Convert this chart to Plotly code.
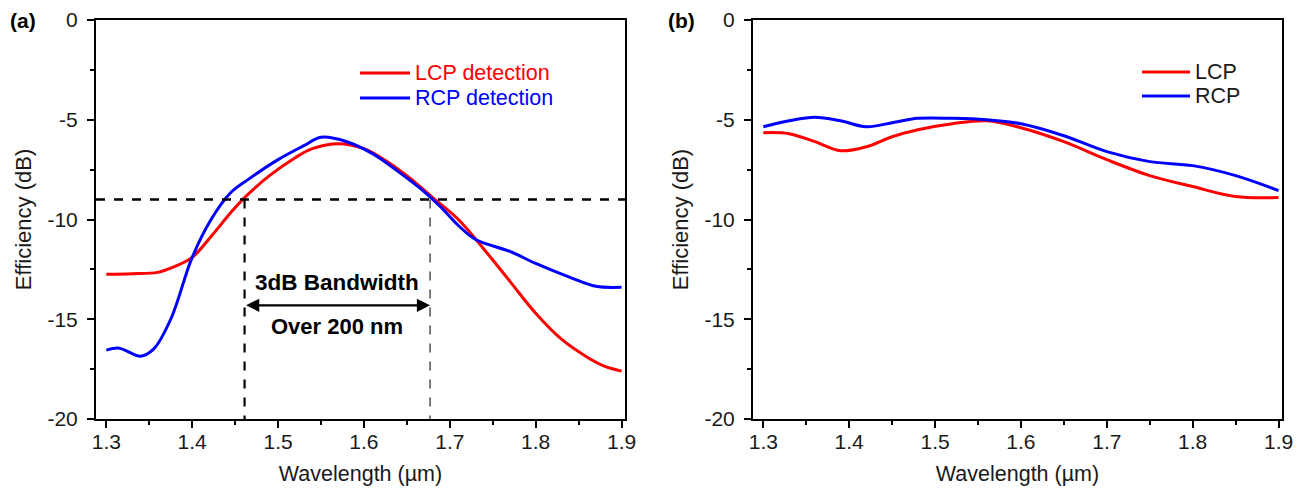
import plotly.graph_objects as go

# page has an 8px body margin: figure is drawn at (8, 8) inside the 1303x489 window
OFF = 8
W, H = 1303 - OFF, 489 - OFF

# ---------------- data ----------------
wl_a_lcp = [1.30, 1.33, 1.36, 1.38, 1.40, 1.422, 1.445, 1.461, 1.49, 1.52, 1.54, 1.57, 1.60, 1.62, 1.65, 1.68, 1.71, 1.74, 1.77, 1.80, 1.83, 1.86, 1.88, 1.90]
eff_a_lcp = [-12.75, -12.72, -12.65, -12.35, -11.9, -10.85, -9.65, -8.9, -7.8, -6.9, -6.45, -6.2, -6.45, -6.9, -7.8, -8.9, -10.0, -11.5, -13.1, -14.7, -16.0, -16.9, -17.35, -17.6]

wl_a_rcp = [1.30, 1.315, 1.34, 1.355, 1.375, 1.40, 1.422, 1.445, 1.465, 1.50, 1.53, 1.55, 1.58, 1.61, 1.64, 1.67, 1.69, 1.71, 1.73, 1.77, 1.80, 1.84, 1.87, 1.90]
eff_a_rcp = [-16.55, -16.45, -16.85, -16.5, -15.0, -11.9, -10.0, -8.65, -8.0, -7.0, -6.3, -5.88, -6.1, -6.7, -7.6, -8.6, -9.4, -10.3, -11.0, -11.6, -12.2, -12.9, -13.35, -13.4]

wl_b = [1.30, 1.33, 1.36, 1.39, 1.42, 1.45, 1.48, 1.52, 1.56, 1.60, 1.65, 1.70, 1.75, 1.80, 1.85, 1.90]
eff_b_lcp = [-5.65, -5.7, -6.1, -6.55, -6.35, -5.85, -5.5, -5.2, -5.05, -5.4, -6.1, -7.0, -7.8, -8.35, -8.85, -8.9]
eff_b_rcp = [-5.35, -5.05, -4.87, -5.05, -5.35, -5.15, -4.93, -4.93, -5.0, -5.2, -5.8, -6.6, -7.1, -7.3, -7.8, -8.55]

x_ticks = [1.3, 1.4, 1.5, 1.6, 1.7, 1.8, 1.9]
x_ticktext = ["1.3", "1.4", "1.5", "1.6", "1.7", "1.8", "1.9"]
y_ticks = [0, -5, -10, -15, -20]
y_ticktext = ["0", "-5", "-10", "-15", "-20"]

threshold_db = -9.0
band_lo, band_hi = 1.461, 1.677

# ---------------- figure ----------------
FONT = "Liberation Sans, Arial, sans-serif"
RED = "#ff0000"
BLUE = "#0000ff"
TXT = "#1a1a1a"

fig = go.Figure()
lw = 3
fig.add_trace(go.Scatter(x=wl_a_lcp, y=eff_a_lcp, mode="lines", line=dict(color=RED, width=lw, shape="spline", smoothing=1.0), xaxis="x", yaxis="y", showlegend=False))
fig.add_trace(go.Scatter(x=wl_a_rcp, y=eff_a_rcp, mode="lines", line=dict(color=BLUE, width=lw, shape="spline", smoothing=1.0), xaxis="x", yaxis="y", showlegend=False))
fig.add_trace(go.Scatter(x=wl_b, y=eff_b_lcp, mode="lines", line=dict(color=RED, width=lw, shape="spline", smoothing=1.0), xaxis="x2", yaxis="y2", showlegend=False))
fig.add_trace(go.Scatter(x=wl_b, y=eff_b_rcp, mode="lines", line=dict(color=BLUE, width=lw, shape="spline", smoothing=1.0), xaxis="x2", yaxis="y2", showlegend=False))

def px_x(p):
    return (p - OFF) / W

def px_y(p):
    return 1 - (p - OFF) / H

xr = [1.288, 1.904]
yr = [-20, 0]

common_x = dict(range=xr, tickvals=x_ticks, ticktext=x_ticktext, ticks="outside", ticklen=7, tickwidth=2,
                tickcolor="black", showline=True, linecolor="black", linewidth=2, mirror=True,
                showgrid=False, zeroline=False, automargin=False, ticklabelstandoff=-4,
                tickfont=dict(size=21, color=TXT, family=FONT),
                minor=dict(tickvals=[1.35, 1.45, 1.55, 1.65, 1.75, 1.85], ticks="outside", ticklen=4, tickwidth=2, tickcolor="black", showgrid=False),
                title=dict(text="Wavelength (\u00b5m)", font=dict(size=21.5, color=TXT, family=FONT), standoff=14))
common_y = dict(range=yr, tickvals=y_ticks, ticktext=y_ticktext, ticks="outside", ticklen=7, tickwidth=2,
                tickcolor="black", showline=True, linecolor="black", linewidth=2, mirror=True,
                showgrid=False, zeroline=False, automargin=False, ticklabelstandoff=5,
                tickfont=dict(size=21, color=TXT, family=FONT),
                minor=dict(tickvals=[-2.5, -7.5, -12.5, -17.5], ticks="outside", ticklen=4, tickwidth=2, tickcolor="black", showgrid=False),
                title=dict(text="Efficiency (dB)", font=dict(size=22, color=TXT, family=FONT), standoff=10))

fig.update_layout(
    width=W, height=H,
    margin=dict(l=0, r=0, t=0, b=0, autoexpand=False),
    paper_bgcolor="white", plot_bgcolor="white",
    font=dict(family=FONT, color=TXT),
    xaxis=dict(domain=[px_x(96), px_x(625)], anchor="y", **common_x),
    yaxis=dict(domain=[px_y(419), px_y(20)], anchor="x", **common_y),
    xaxis2=dict(domain=[px_x(753), px_x(1282)], anchor="y2", **common_x),
    yaxis2=dict(domain=[px_y(419), px_y(20)], anchor="x2", **common_y),
)

# dashed guide lines in panel (a)
fig.add_shape(type="line", xref="x", yref="y", x0=xr[0], x1=xr[1], y0=threshold_db, y1=threshold_db,
              line=dict(color="black", width=2.5, dash="dash"))
fig.add_shape(type="line", xref="x", yref="y", x0=band_lo, x1=band_lo, y0=threshold_db, y1=yr[0],
              line=dict(color="black", width=2.2, dash="dash"))
fig.add_shape(type="line", xref="x", yref="y", x0=band_hi, x1=band_hi, y0=threshold_db, y1=yr[0],
              line=dict(color="#333", width=1.3, dash="dash"))

# double arrow
fig.add_annotation(xref="x", yref="y", axref="x", ayref="y", x=band_hi, y=-14.3, ax=band_lo, ay=-14.3,
                   text="", showarrow=True, arrowhead=2, arrowside="end+start", arrowsize=1.2, arrowwidth=2.2, arrowcolor="black")
mid = (band_lo + band_hi) / 2
fig.add_annotation(xref="x", yref="y", x=mid, y=-13.15, text="<b>3dB Bandwidth</b>", showarrow=False,
                   font=dict(size=22.5, color="black", family=FONT))
fig.add_annotation(xref="x", yref="y", x=mid, y=-15.35, text="<b>Over 200 nm</b>", showarrow=False,
                   font=dict(size=22, color="black", family=FONT))

# panel labels
fig.add_annotation(xref="paper", yref="paper", x=px_x(8), y=px_y(21), text="<b>(a)</b>", showarrow=False,
                   xanchor="left", yanchor="middle", font=dict(size=21, color="black", family=FONT))
fig.add_annotation(xref="paper", yref="paper", x=px_x(666), y=px_y(21), text="<b>(b)</b>", showarrow=False,
                   xanchor="left", yanchor="middle", font=dict(size=21, color="black", family=FONT))

# custom legends
legend_items = [
    (px_x(360), px_x(410), px_y(73), "LCP detection", RED, RED),
    (px_x(360), px_x(410), px_y(98), "RCP detection", BLUE, BLUE),
    (px_x(1142), px_x(1190), px_y(72), "LCP", RED, TXT),
    (px_x(1142), px_x(1190), px_y(96), "RCP", BLUE, TXT),
]
for x0, x1, yy, label, lc, tc in legend_items:
    fig.add_shape(type="line", xref="paper", yref="paper", x0=x0, x1=x1, y0=yy, y1=yy,
                  line=dict(color=lc, width=3))
    fig.add_annotation(xref="paper", yref="paper", x=x1 + 3 / W, y=yy, text=label, showarrow=False,
                       xanchor="left", yanchor="middle", font=dict(size=21.5, color=tc, family=FONT))

fig.write_html("out.html")
